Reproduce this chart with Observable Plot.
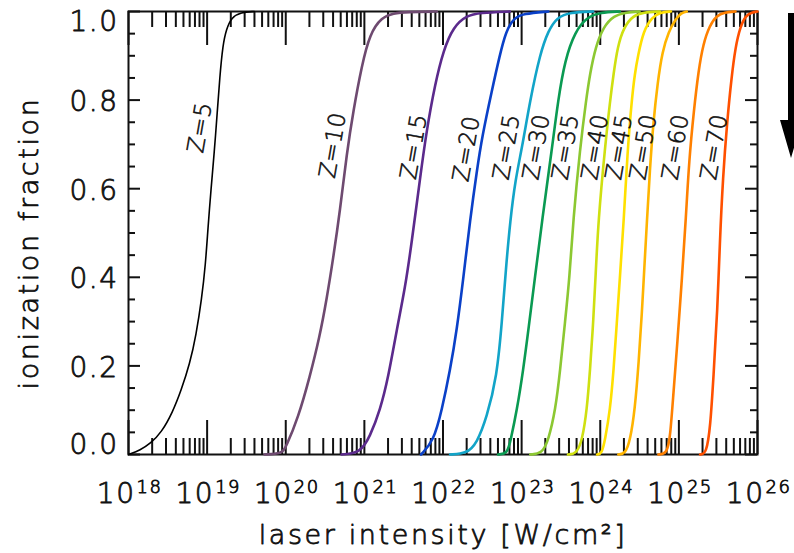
<!DOCTYPE html>
<html><head><meta charset="utf-8">
<script src="https://cdn.jsdelivr.net/npm/d3@7"></script>
<script src="https://cdn.jsdelivr.net/npm/@observablehq/plot@0.6"></script>
<style>html,body{margin:0;padding:0;background:#fff;}</style>
</head><body><div id="chart"></div>
<script>
// ---- data (log10 intensity, ionization fraction) ----
const zValues = [5,10,15,20,25,30,35,40,45,50,60,70];
const lineColors = ["#000000","#6e4a70","#5b2a8c","#0a40c8","#12a4c8","#0a9a52","#8cc832","#cfe010","#ffe000","#ffb400","#ff8000","#ff5000"];
const z5  = [[18.0,0],[18.15,0.01],[18.28,0.025],[18.42,0.05],[18.56,0.095],[18.67,0.145],[18.78,0.205],[18.86,0.27],[18.93,0.35],[18.98,0.43],[19.01,0.51],[19.05,0.60],[19.09,0.68],[19.13,0.775],[19.16,0.85],[19.20,0.925],[19.245,0.96],[19.31,0.987],[19.43,0.998],[19.6,1]];
const z10 = [[19.73,0],[19.95,0.002],[20.0,0.016],[20.16,0.084],[20.305,0.175],[20.43,0.265],[20.52,0.35],[20.605,0.445],[20.69,0.55],[20.776,0.68],[20.86,0.776],[20.967,0.878],[21.07,0.95],[21.22,0.987],[21.37,0.996],[21.54,0.999],[21.92,1]];
const z15 = [[20.71,0],[20.945,0.003],[21.07,0.04],[21.2,0.10],[21.305,0.175],[21.41,0.28],[21.52,0.378],[21.60,0.476],[21.71,0.626],[21.79,0.73],[21.90,0.837],[22.005,0.912],[22.13,0.965],[22.30,0.991],[22.47,0.997],[22.85,1]];
const z20 = [[21.72,0],[21.88,0.03],[21.985,0.10],[22.09,0.19],[22.175,0.28],[22.26,0.40],[22.345,0.53],[22.43,0.64],[22.50,0.72],[22.62,0.82],[22.72,0.90],[22.80,0.955],[22.90,0.985],[23.02,0.995],[23.34,1]];
const z25 = [[22.09,0],[22.30,0.002],[22.43,0.025],[22.557,0.084],[22.685,0.175],[22.75,0.30],[22.80,0.42],[22.855,0.528],[22.92,0.62],[23.006,0.693],[23.108,0.80],[23.235,0.905],[23.34,0.957],[23.45,0.987],[23.62,0.998],[23.91,1]];
const z30 = [[22.70,0],[22.82,0.002],[22.86,0.032],[22.94,0.10],[23.02,0.19],[23.09,0.287],[23.17,0.40],[23.26,0.528],[23.388,0.693],[23.464,0.80],[23.55,0.89],[23.68,0.955],[23.83,0.987],[24.0,0.998],[24.25,1]];
const z35 = [[23.11,0],[23.26,0.002],[23.34,0.032],[23.43,0.10],[23.49,0.19],[23.55,0.296],[23.61,0.40],[23.655,0.528],[23.744,0.693],[23.82,0.80],[23.87,0.86],[23.94,0.92],[24.04,0.965],[24.17,0.991],[24.34,0.998],[24.5,1]];
const z40 = [[23.59,0],[23.70,0.002],[23.77,0.032],[23.83,0.10],[23.87,0.19],[23.91,0.296],[23.94,0.40],[23.975,0.528],[24.06,0.693],[24.126,0.80],[24.17,0.86],[24.22,0.92],[24.30,0.965],[24.42,0.991],[24.55,0.998],[24.76,1]];
const z45 = [[23.96,0],[24.02,0.002],[24.06,0.032],[24.125,0.10],[24.17,0.19],[24.21,0.296],[24.25,0.40],[24.30,0.53],[24.345,0.68],[24.40,0.80],[24.44,0.86],[24.48,0.90],[24.55,0.957],[24.66,0.987],[24.76,0.998],[24.9,1]];
const z50 = [[24.23,0],[24.32,0.002],[24.38,0.032],[24.44,0.10],[24.49,0.21],[24.53,0.32],[24.56,0.42],[24.595,0.53],[24.63,0.64],[24.675,0.75],[24.73,0.84],[24.79,0.91],[24.87,0.955],[24.96,0.983],[25.03,0.997],[25.1,1]];
const z60 = [[24.74,0],[24.85,0.002],[24.89,0.04],[24.93,0.137],[24.98,0.25],[25.04,0.40],[25.09,0.536],[25.13,0.664],[25.19,0.776],[25.25,0.867],[25.31,0.927],[25.39,0.968],[25.48,0.991],[25.58,0.998],[25.72,1]];
const z70 = [[25.27,0],[25.35,0.002],[25.40,0.062],[25.44,0.175],[25.49,0.325],[25.52,0.476],[25.56,0.626],[25.615,0.754],[25.67,0.852],[25.72,0.92],[25.78,0.965],[25.85,0.991],[25.93,0.998],[26.0,1]];
const curves = [z5,z10,z15,z20,z25,z30,z35,z40,z45,z50,z60,z70];
const labelLogI = [18.91,20.60,21.63,22.30,22.81,23.19,23.56,23.935,24.24,24.55,24.96,25.45];
const labelFrac = [0.738,0.698,0.695,0.69,0.694,0.694,0.694,0.694,0.694,0.694,0.694,0.694];
const xMajorExp = [18,19,20,21,22,23,24,25,26];
const yMajor = [0,0.2,0.4,0.6,0.8,1.0];
const xTitle = "laser intensity [W/cm²]";
const yTitle = "ionization fraction";

// ---- derived tables ----
const rows = curves.flatMap((c,i)=>c.map(([L,f])=>({z:zValues[i], I:Math.pow(10,L), f})));
const labels = zValues.map((z,i)=>({z, I:Math.pow(10,labelLogI[i]), f:labelFrac[i], text:`Z=${z}`}));
const xMajor = xMajorExp.map(e=>Math.pow(10,e));
const xMinor = [];
for (const e of xMajorExp.slice(0,-1)) for (let m=2;m<=9;m++) xMinor.push(m*Math.pow(10,e));
const yMinor = d3.range(0.05,1.0,0.05).filter(v=>Math.abs(v*5-Math.round(v*5))>1e-6);

const W=794,H=553,mL=128,mR=37,mT=11,mB=99;
const pw=W-mL-mR, ph=H-mT-mB;
const font = "'DejaVu Sans', sans-serif";
const ink = "#111";

const chart = Plot.plot({
  width:W, height:H, marginLeft:mL, marginRight:mR, marginTop:mT, marginBottom:mB,
  style:{fontFamily:font, fontWeight:"200", background:"#fff", color:ink, overflow:"visible"},
  x:{type:"log", domain:[1e18,1e26], axis:null},
  y:{domain:[0,1], axis:null},
  color:{domain:zValues, range:lineColors},
  marks:[
    Plot.frame({stroke:ink, strokeWidth:2}),
    Plot.tickX(xMajor,{x:d=>d, insetTop:ph-34, stroke:ink, strokeWidth:2}),
    Plot.tickX(xMajor,{x:d=>d, insetBottom:ph-34, stroke:ink, strokeWidth:2}),
    Plot.tickX(xMinor,{x:d=>d, insetTop:ph-16, stroke:ink, strokeWidth:2}),
    Plot.tickX(xMinor,{x:d=>d, insetBottom:ph-16, stroke:ink, strokeWidth:2}),
    Plot.tickY(yMajor,{y:d=>d, insetRight:pw-12, stroke:ink, strokeWidth:2}),
    Plot.tickY(yMajor,{y:d=>d, insetLeft:pw-12, stroke:ink, strokeWidth:2}),
    Plot.tickY(yMinor,{y:d=>d, insetRight:pw-7, stroke:ink, strokeWidth:2}),
    Plot.tickY(yMinor,{y:d=>d, insetLeft:pw-7, stroke:ink, strokeWidth:2}),
    Plot.line(rows.filter(d=>d.z!==5),{x:"I", y:"f", z:"z", stroke:"z", strokeWidth:2.6, curve:"basis"}),
    Plot.line(rows.filter(d=>d.z===5),{x:"I", y:"f", stroke:lineColors[0], strokeWidth:1.6, curve:"basis"}),
    Plot.text(labels,{x:"I", y:"f", text:"text", rotate:-80, fontSize:23, fill:ink, textAnchor:"middle"}),
    // y tick labels
    Plot.text(yMajor.filter(v=>v>0&&v<1),{y:d=>d, frameAnchor:"left", text:d=>d.toFixed(1), textAnchor:"end", dx:-10, dy:2, fontSize:28, fill:ink}),
    Plot.text(yMajor.filter(v=>v===1),{y:d=>d, frameAnchor:"left", text:d=>d.toFixed(1), textAnchor:"end", dx:-10, dy:11, fontSize:28, fill:ink}),
    Plot.text(yMajor.filter(v=>v===0),{y:d=>d, frameAnchor:"left", text:d=>d.toFixed(1), textAnchor:"end", dx:-10, dy:-9, fontSize:28, fill:ink}),
    // x tick labels: base and exponent
    Plot.text(xMajor,{x:d=>d, frameAnchor:"bottom", text:()=>"10", textAnchor:"end", lineAnchor:"bottom", dx:7, dy:48, fontSize:28, fill:ink}),
    Plot.text(xMajorExp,{x:e=>Math.pow(10,e), frameAnchor:"bottom", text:e=>String(e), textAnchor:"start", lineAnchor:"bottom", dx:8, dy:38, fontSize:18, fill:ink}),
    // axis titles
    Plot.text([xTitle],{frameAnchor:"bottom", text:d=>d, textAnchor:"middle", lineAnchor:"bottom", dy:89, fontSize:27, fill:ink}),
    Plot.text([yTitle],{frameAnchor:"left", text:d=>d, textAnchor:"middle", lineAnchor:"bottom", rotate:-90, dx:-91, dy:10, fontSize:27, fill:ink})
  ]
});

const svg = d3.select(chart);
svg.selectAll("text").each(function(){
  const t = this.textContent;
  const sel = d3.select(this);
  sel.attr("font-weight","200").attr("stroke",ink).attr("stroke-linejoin","round");
  if (t===xTitle || t===yTitle) sel.attr("letter-spacing","2.6px").attr("stroke-width",0.8);
  else if (t.startsWith("Z=")) sel.attr("letter-spacing","0.5px").attr("stroke-width",0.6);
  else sel.attr("letter-spacing","1.5px").attr("stroke-width",0.8);
});
// decorative arrow at the right edge
svg.append("path").attr("d","M788,13H794V120H802L791,158L780,120H788Z").attr("fill","#000");
document.getElementById("chart").appendChild(chart);
</script>
</body></html>
